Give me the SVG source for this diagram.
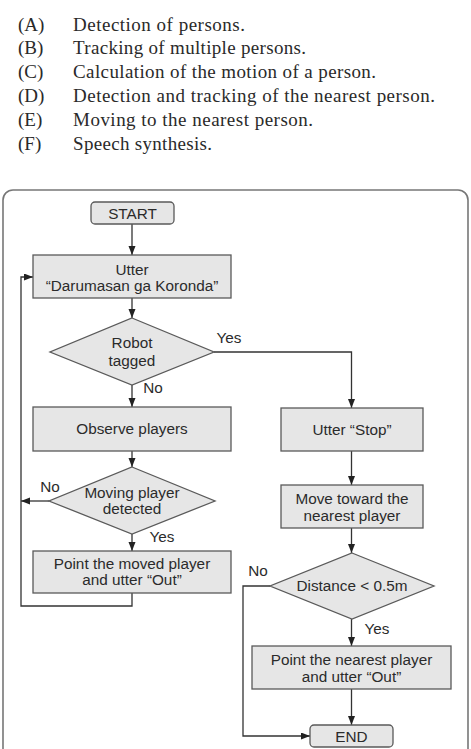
<svg xmlns="http://www.w3.org/2000/svg" width="471" height="749" viewBox="0 0 471 749">
<style>
.lst{font-family:"Liberation Serif","Times New Roman",serif;font-size:19px;fill:#2a2a2a}
.t{font-family:"Liberation Sans",Arial,sans-serif;font-size:15.3px;fill:#2b2b2b;text-anchor:middle}
.box{fill:#e6e6e6;stroke:#5a5a5a;stroke-width:1.3}
.ln{fill:none;stroke:#333;stroke-width:1.3}
</style>
<defs>
<marker id="ah" markerUnits="userSpaceOnUse" markerWidth="9" markerHeight="8" refX="9" refY="3.5" orient="auto">
<path d="M0,0 L9,3.5 L0,7 z" fill="#222"/>
</marker>
</defs>
<rect width="471" height="749" fill="#fff"/>
<g id="legend">
<text class="lst" x="18" y="30.5">(A)</text><text class="lst" x="73" y="30.5" textLength="172">Detection of persons.</text>
<text class="lst" x="18" y="54.3">(B)</text><text class="lst" x="73" y="54.3" textLength="233">Tracking of multiple persons.</text>
<text class="lst" x="18" y="78.2">(C)</text><text class="lst" x="73" y="78.2" textLength="303">Calculation of the motion of a person.</text>
<text class="lst" x="18" y="102">(D)</text><text class="lst" x="73" y="102" textLength="362">Detection and tracking of the nearest person.</text>
<text class="lst" x="18" y="125.9">(E)</text><text class="lst" x="73" y="125.9" textLength="240">Moving to the nearest person.</text>
<text class="lst" x="18" y="149.7">(F)</text><text class="lst" x="73" y="149.7" textLength="139">Speech synthesis.</text>
</g>
<rect id="frame" x="3" y="190" width="465" height="600" rx="10" fill="none" stroke="#777" stroke-width="1.6"/>
<g id="connectors">
<path class="ln" d="M132,224 V255" marker-end="url(#ah)"/>
<path class="ln" d="M132,298 V318" marker-end="url(#ah)"/>
<path class="ln" d="M214,352 H351.5 V408" marker-end="url(#ah)"/>
<path class="ln" d="M132,385 V407" marker-end="url(#ah)"/>
<path class="ln" d="M132,451 V467" marker-end="url(#ah)"/>
<path class="ln" d="M49,501 H21" marker-end="url(#ah)"/>
<path class="ln" d="M132,534 V551" marker-end="url(#ah)"/>
<path class="ln" d="M132,593 V606 H21 V277 H33" marker-end="url(#ah)"/>
<path class="ln" d="M351.5,451 V485" marker-end="url(#ah)"/>
<path class="ln" d="M351.5,528 V553" marker-end="url(#ah)"/>
<path class="ln" d="M270,586 H243 V736 H310" marker-end="url(#ah)"/>
<path class="ln" d="M351.5,619 V646" marker-end="url(#ah)"/>
<path class="ln" d="M351.5,689 V725" marker-end="url(#ah)"/>
</g>
<g id="start"><rect class="box" x="91" y="202" width="83" height="22" rx="4"/><text class="t" x="132.5" y="218.5">START</text></g>
<g id="utter"><rect class="box" x="33" y="255" width="198" height="43"/><text class="t" x="132" y="275">Utter</text><text class="t" x="132" y="291">“Darumasan ga Koronda”</text></g>
<g id="robot-tagged"><path class="box" d="M132,318 L214,352 L132,385 L50,352 Z"/><text class="t" x="132" y="348">Robot</text><text class="t" x="132" y="366">tagged</text></g>
<text class="t" x="229" y="343">Yes</text>
<text class="t" x="153" y="393">No</text>
<g id="observe"><rect class="box" x="33" y="407" width="198" height="44"/><text class="t" x="132" y="434">Observe players</text></g>
<g id="moving-detected"><path class="box" d="M132,467 L215,501 L132,534 L49,501 Z"/><text class="t" x="132" y="498">Moving player</text><text class="t" x="132" y="514">detected</text></g>
<text class="t" x="50" y="492">No</text>
<text class="t" x="162" y="542">Yes</text>
<g id="point-moved"><rect class="box" x="33" y="551" width="198" height="42"/><text class="t" x="132" y="569">Point the moved player</text><text class="t" x="132" y="585">and utter “Out”</text></g>
<g id="utter-stop"><rect class="box" x="281" y="408" width="142" height="43"/><text class="t" x="352" y="435">Utter “Stop”</text></g>
<g id="move-toward"><rect class="box" x="281" y="485" width="142" height="43"/><text class="t" x="352" y="504">Move toward the</text><text class="t" x="352" y="521">nearest player</text></g>
<g id="distance"><path class="box" d="M352,553 L434,586 L352,619 L270,586 Z"/><text class="t" x="352" y="591">Distance &lt; 0.5m</text></g>
<text class="t" x="258" y="576">No</text>
<text class="t" x="377" y="634">Yes</text>
<g id="point-nearest"><rect class="box" x="252" y="646" width="199" height="43"/><text class="t" x="351.5" y="665">Point the nearest player</text><text class="t" x="351.5" y="682">and utter “Out”</text></g>
<g id="end"><rect class="box" x="310" y="725" width="83" height="22" rx="4"/><text class="t" x="351.5" y="741.5">END</text></g>
</svg>
